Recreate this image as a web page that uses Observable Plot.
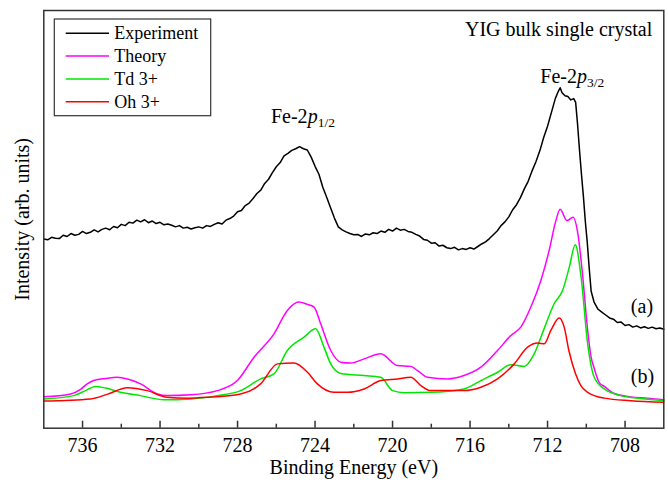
<!DOCTYPE html>
<html>
<head>
<meta charset="utf-8">
<script src="https://cdn.jsdelivr.net/npm/d3@7"></script>
<script src="https://cdn.jsdelivr.net/npm/@observablehq/plot@0.6"></script>
<style>
  html, body { margin: 0; padding: 0; background: #fff; }
  #chart { width: 668px; height: 483px; }
</style>
</head>
<body>
<div id="chart"></div>
<script>
// Fe 2p XPS spectra of a YIG bulk single crystal: experiment vs. multiplet theory
// [binding energy (eV), intensity (arb. units)]

const experiment = [
  [738.00,45.3],[737.80,45.1],[737.60,45.7],[737.40,45.5],[737.20,45.4],[737.00,46.2],
  [736.80,45.9],[736.60,46.6],[736.40,46.2],[736.20,46.4],[736.00,47.1],[735.80,46.6],
  [735.60,46.9],[735.40,47.5],[735.20,47.0],[735.00,47.6],[734.80,47.9],[734.60,47.5],
  [734.40,48.3],[734.20,48.0],[734.00,48.8],[733.80,48.5],[733.60,49.3],[733.40,49.1],
  [733.20,49.8],[733.00,49.4],[732.80,49.9],[732.60,49.2],[732.40,49.6],[732.20,49.0],
  [732.00,49.3],[731.80,48.7],[731.60,48.9],[731.40,48.6],[731.20,48.2],[731.00,48.5],
  [730.80,47.9],[730.60,48.1],[730.40,47.7],[730.20,48.0],[730.00,48.2],[729.80,47.9],
  [729.60,48.5],[729.40,48.3],[729.20,48.8],[729.00,49.2],[728.80,48.9],[728.60,49.8],
  [728.40,50.2],[728.20,50.8],[728.00,51.8],[727.80,52.1],[727.60,53.3],[727.40,53.9],
  [727.20,55.0],[727.00,56.2],[726.80,57.0],[726.60,58.6],[726.40,59.6],[726.20,61.2],
  [726.00,62.6],[725.80,63.6],[725.60,65.2],[725.40,65.8],[725.20,66.5],[725.00,66.9],
  [724.80,67.4],[724.60,66.9],[724.40,66.6],[724.20,64.9],[724.00,62.7],[723.80,60.8],
  [723.60,57.7],[723.40,55.3],[723.20,52.8],[723.00,50.3],[722.80,48.2],[722.60,47.5],
  [722.40,47.0],[722.20,46.6],[722.00,46.3],[721.80,46.4],[721.60,45.9],[721.40,46.5],
  [721.20,46.3],[721.00,46.8],[720.80,46.6],[720.60,47.2],[720.40,46.9],[720.20,47.6],
  [720.00,47.2],[719.80,47.9],[719.60,47.4],[719.40,47.6],[719.20,47.1],[719.00,46.9],
  [718.80,46.4],[718.60,46.0],[718.40,45.2],[718.20,45.0],[718.00,44.3],[717.80,44.4],
  [717.60,43.6],[717.40,43.8],[717.20,43.2],[717.00,43.0],[716.80,43.3],[716.60,42.7],
  [716.40,43.0],[716.20,42.8],[716.00,43.2],[715.80,42.9],[715.60,43.5],[715.40,44.1],
  [715.20,44.6],[715.00,45.4],[714.80,46.3],[714.60,47.2],[714.40,48.5],[714.20,49.4],
  [714.00,50.6],[713.80,52.3],[713.60,53.5],[713.40,55.2],[713.20,57.3],[713.00,59.1],
  [712.80,61.6],[712.60,63.8],[712.40,66.4],[712.20,69.6],[712.00,72.3],[711.80,75.6],
  [711.60,78.9],[711.45,80.6],[711.35,81.5],[711.25,80.3],[711.10,79.6],[710.95,79.4],
  [710.80,78.6],[710.65,78.9],[710.55,78.0],[710.45,72.7],[710.35,66.5],[710.25,60.8],
  [710.15,55.5],[710.05,49.5],[709.95,44.5],[709.85,38.3],[709.75,32.8],[709.60,30.2],
  [709.40,28.5],[709.20,27.8],[709.00,27.1],[708.80,26.4],[708.60,26.1],[708.40,25.3],
  [708.20,25.4],[708.00,24.6],[707.80,24.8],[707.60,24.2],[707.40,24.5],[707.20,24.0],
  [707.00,24.3],[706.80,23.9],[706.60,24.2],[706.40,23.8],[706.20,24.0],[706.00,23.7]
];

const theory = [
  [738.00,7.5],[736.62,8.2],[736.10,9.3],[735.76,10.6],[735.42,11.4],[734.81,11.9],
  [734.21,12.2],[733.63,11.7],[733.00,10.6],[732.14,8.2],[731.63,7.8],[730.42,8.0],
  [729.04,9.0],[728.01,11.4],[727.15,17.0],[726.12,22.6],[725.43,28.2],[724.83,30.2],
  [724.43,29.7],[724.05,29.0],[723.71,25.0],[723.19,18.6],[722.67,15.8],[722.16,15.6],
  [721.47,16.6],[720.61,17.8],[719.75,15.0],[719.06,14.8],[718.71,13.8],[718.20,12.2],
  [717.16,11.8],[716.31,12.6],[715.44,14.6],[714.58,18.6],[713.89,22.2],[713.38,24.2],
  [712.86,29.0],[712.34,35.4],[711.92,42.5],[711.57,49.7],[711.35,52.4],[711.00,49.7],
  [710.68,50.5],[710.42,46.1],[710.19,36.6],[709.93,23.4],[709.76,17.2],[709.59,14.3],
  [709.33,10.9],[709.07,10.0],[708.56,8.3],[707.70,7.5],[706.83,7.2],[706.00,6.8]
];

const td3 = [
  [738.00,7.0],[736.45,7.8],[735.85,9.0],[735.33,10.0],[734.81,9.6],[734.04,8.6],
  [733.01,7.8],[731.80,6.8],[730.42,7.0],[729.04,7.8],[727.84,9.0],[726.81,11.8],
  [726.12,13.0],[725.43,18.6],[724.57,21.8],[723.97,23.8],[723.54,19.4],[723.19,15.4],
  [722.67,13.1],[721.47,12.6],[720.61,12.2],[720.00,9.0],[719.40,8.5],[718.03,8.6],
  [716.31,9.4],[715.44,11.4],[714.58,13.4],[713.89,15.2],[713.21,14.8],[712.69,17.8],
  [712.17,23.9],[711.66,29.8],[711.22,33.0],[710.88,38.5],[710.57,43.9],[710.27,36.2],
  [709.93,20.2],[709.59,12.2],[709.07,9.4],[708.21,7.8],[707.18,7.1],[706.00,6.6]
];

const oh3 = [
  [738.00,6.5],[735.59,7.0],[734.73,8.1],[733.69,9.7],[732.66,9.0],[731.63,7.4],
  [730.59,7.2],[729.56,7.4],[727.84,8.2],[726.81,10.6],[725.94,15.4],[725.09,15.6],
  [724.39,13.4],[723.88,10.6],[723.02,8.6],[722.33,8.6],[721.47,9.4],[720.61,11.4],
  [719.75,11.8],[719.06,12.2],[718.54,10.2],[718.03,9.0],[716.31,9.0],[715.44,9.8],
  [714.58,11.8],[713.72,15.4],[713.03,19.4],[712.50,20.4],[712.17,20.2],[711.83,23.4],
  [711.40,26.4],[711.14,24.2],[710.90,18.6],[710.56,13.1],[710.28,10.2],[709.93,8.6],
  [709.07,7.2],[707.70,6.6],[706.00,6.2]
];

const majorTicks = [736, 732, 728, 724, 720, 716, 712, 708];
const minorTicks = [734, 730, 726, 722, 718, 714, 710];

const seriesNames = ["Experiment", "Theory", "Td 3+", "Oh 3+"];
const seriesColors = ["#000000", "#ff00ff", "#00e600", "#ff0000"];

// peak labels: Fe-2p with j subscript, placed over each spin-orbit peak
const peakLabels = [
  {E: 724.6, I: 72.9, sub: "1/2"},
  {E: 710.7, I: 82.5, sub: "3/2"}
];
const curveLabels = [
  {E: 707.7, I: 29.1, text: "(a)"},
  {E: 707.7, I: 12.4, text: "(b)"}
];

const serif = "'Liberation Serif', 'Times New Roman', Times, serif";
const toRows = (arr) => arr.map(([E, I]) => ({E, I}));

const chart = Plot.plot({
  width: 668,
  height: 483,
  marginLeft: 43.3,
  marginRight: 4.7,
  marginTop: 10,
  marginBottom: 55.3,
  style: {fontFamily: serif, fontSize: "20px", color: "#000", background: "#fff", overflow: "visible"},
  x: {domain: [738, 706]},
  y: {domain: [0, 100], axis: null},
  marks: [
    Plot.line(toRows(experiment), {x: "E", y: "I", stroke: seriesColors[0], strokeWidth: 1.5}),
    Plot.line(toRows(theory), {x: "E", y: "I", stroke: seriesColors[1], strokeWidth: 1.5, curve: "monotone-x"}),
    Plot.line(toRows(td3), {x: "E", y: "I", stroke: seriesColors[2], strokeWidth: 1.5, curve: "monotone-x"}),
    Plot.line(toRows(oh3), {x: "E", y: "I", stroke: seriesColors[3], strokeWidth: 1.5, curve: "monotone-x"}),
    Plot.frame({stroke: "#333", strokeWidth: 1.5}),
    Plot.axisX({ticks: majorTicks, tickSize: -7, tickPadding: 17, label: null, fontSize: 20, stroke: "#333", strokeWidth: 1.5}),
    Plot.axisX({ticks: minorTicks, tickSize: -4, tickFormat: () => "", label: null, stroke: "#333", strokeWidth: 1.5}),
    Plot.text(["Binding Energy (eV)"], {frameAnchor: "bottom", dy: 46, lineAnchor: "bottom", textAnchor: "middle", fontSize: 20}),
    Plot.text(["Intensity (arb. units)"], {frameAnchor: "left", rotate: -90, dx: -14.8, lineAnchor: "bottom", textAnchor: "middle", fontSize: 20}),
    Plot.text(["YIG bulk single crystal"], {frameAnchor: "top-right", dx: -11.6, dy: 25, lineAnchor: "bottom", textAnchor: "end", fontSize: 20}),
    Plot.text(curveLabels, {x: "E", y: "I", text: "text", textAnchor: "start", lineAnchor: "middle", fontSize: 20})
  ]
});

document.getElementById("chart").appendChild(chart);

const svg = d3.select(chart);
const xs = chart.scale("x");
const ys = chart.scale("y");

// Fe-2p labels with italic p and smaller subscript
peakLabels.forEach((d) => {
  const t = svg.append("text")
    .attr("x", xs.apply(d.E))
    .attr("y", ys.apply(d.I))
    .attr("text-anchor", "middle")
    .style("font-family", serif)
    .attr("font-size", 20)
    .attr("fill", "#000");
  t.append("tspan").text("Fe-2");
  t.append("tspan").attr("font-style", "italic").text("p");
  t.append("tspan").attr("font-size", 13.5).attr("dy", 4).text(d.sub);
});

// legend box in the upper-left corner of the frame
const lg = svg.append("g").attr("transform", "translate(54.3,19)");
lg.append("rect")
  .attr("width", 156.4).attr("height", 96.7)
  .attr("fill", "#fff").attr("stroke", "#333").attr("stroke-width", 1.2);
seriesNames.forEach((name, i) => {
  const cy = 14.3 + i * 22.8;
  lg.append("line")
    .attr("x1", 11.4).attr("x2", 54.7).attr("y1", cy).attr("y2", cy)
    .attr("stroke", seriesColors[i]).attr("stroke-width", 1.5);
  lg.append("text")
    .attr("x", 60).attr("y", cy + 5.8)
    .attr("text-anchor", "start")
    .style("font-family", serif).attr("font-size", 18).attr("fill", "#000")
    .text(name);
});
</script>
</body>
</html>
